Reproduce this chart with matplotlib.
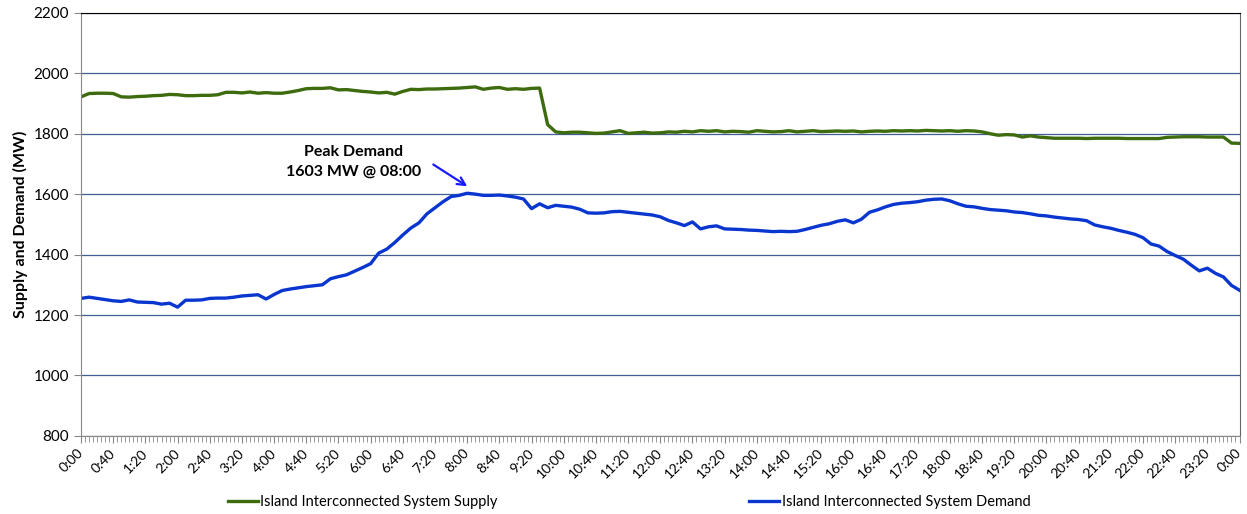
import numpy as np
import matplotlib.pyplot as plt
from matplotlib.ticker import MultipleLocator

plt.rcParams['font.family'] = ['Lato', 'DejaVu Sans']

# 10-minute readings, 0:00 .. 24:00
supply = [
    1922, 1933, 1934, 1934, 1933, 1922, 1921, 1923, 1924, 1926, 1927, 1930,
    1929, 1926, 1926, 1927, 1927, 1929, 1937, 1937, 1935, 1938, 1934, 1936,
    1934, 1934, 1938, 1943, 1949, 1950, 1950, 1952, 1945, 1946, 1943, 1940,
    1938, 1935, 1937, 1931, 1940, 1947, 1946, 1948, 1948, 1949, 1950, 1951,
    1953, 1955, 1947, 1951, 1953, 1947, 1949, 1947, 1950, 1951, 1830, 1806,
    1803, 1805, 1805, 1803, 1801, 1802, 1806, 1810, 1801, 1803, 1805, 1802,
    1803, 1806, 1805, 1808, 1806, 1810, 1808, 1810, 1806, 1808, 1807, 1805,
    1810, 1808, 1806, 1807, 1810, 1806, 1808, 1810, 1807, 1808, 1809, 1808,
    1809, 1806, 1808, 1809, 1808, 1810, 1809, 1810, 1809, 1811, 1810, 1809,
    1810, 1808, 1810, 1809, 1806, 1800, 1795, 1797, 1796, 1789, 1793, 1789,
    1787, 1785, 1785, 1785, 1785, 1784, 1785, 1785, 1785, 1785, 1784, 1784,
    1784, 1784, 1784, 1788, 1789, 1790, 1790, 1790, 1789, 1789, 1789, 1769,
    1768,
]

demand = [
    1255, 1259, 1255, 1251, 1247, 1245, 1250, 1243, 1242, 1241, 1236, 1239,
    1226, 1249, 1249, 1250, 1255, 1256, 1256, 1259, 1263, 1265, 1267, 1253,
    1268, 1281, 1286, 1290, 1294, 1297, 1300, 1320, 1327, 1333, 1345, 1357,
    1370, 1405, 1418, 1440, 1465, 1488, 1505, 1535, 1555, 1575, 1592, 1596,
    1603, 1600, 1596, 1596, 1597, 1594, 1590, 1584, 1552, 1568, 1555, 1563,
    1560, 1557, 1550, 1538, 1537, 1538, 1542, 1543, 1540, 1537, 1534, 1531,
    1525, 1513, 1505, 1496, 1508, 1485, 1492, 1495, 1485, 1484, 1483, 1481,
    1480, 1478, 1476, 1477, 1476, 1477, 1483, 1490, 1497, 1502, 1510, 1515,
    1505, 1517, 1540, 1548, 1558, 1566, 1570, 1572, 1575, 1580, 1583, 1584,
    1578, 1568, 1560, 1558, 1553, 1549, 1547, 1545, 1541, 1539, 1535, 1530,
    1528, 1524, 1521, 1518, 1516, 1512, 1498, 1492, 1487, 1480, 1474, 1467,
    1456, 1435, 1428, 1410, 1397, 1385, 1365, 1346, 1355, 1338, 1326, 1298,
    1282,
]

minutes = np.arange(len(demand)) * 10
tick_minutes = np.arange(0, 1441, 40)
tick_labels = [f"{(m // 60) % 24}:{m % 60:02d}" for m in tick_minutes]

fig = plt.figure(figsize=(12.47, 5.14), dpi=100)
ax = fig.add_axes([0.065, 0.152, 0.929, 0.823])

ax.plot(minutes, supply, color='#3d6b0e', linewidth=2.4,
        label='Island Interconnected System Supply')
ax.plot(minutes, demand, color='#0a36d0', linewidth=2.4,
        label='Island Interconnected System Demand')

ax.set_xlim(0, 1440)
ax.set_ylim(800, 2200)
ax.set_yticks(np.arange(800, 2201, 200))
ax.set_xticks(tick_minutes)
ax.set_xticklabels(tick_labels, rotation=45, ha='right', va='center',
                   rotation_mode='anchor', fontsize=10)
ax.xaxis.set_minor_locator(MultipleLocator(5))
ax.tick_params(axis='x', which='major', length=5, color='#888888', pad=6)
ax.tick_params(axis='x', which='minor', length=4, color='#888888')
ax.tick_params(axis='y', length=5, color='#888888', labelsize=11)

ax.grid(axis='y', color='#3f5f94', linewidth=0.9)
ax.set_axisbelow(True)
for side in ['left', 'bottom']:
    ax.spines[side].set_color('#888888')
ax.spines['top'].set_color('#000000')
ax.spines['right'].set_color('#666666')

ax.set_ylabel('Supply and Demand (MW)', fontsize=11.5, fontweight='bold')

ax.text(339, 1706, 'Peak Demand\n1603 MW @ 08:00', ha='center', va='center',
        fontsize=11.5, fontweight='bold', linespacing=1.5)
ax.annotate('', xy=(483, 1621), xytext=(435, 1703),
            arrowprops=dict(arrowstyle='->', color='#1a1aff', lw=1.6,
                            mutation_scale=14))

ax.legend(loc='center', bbox_to_anchor=(0.473, -0.156), ncol=2, frameon=False,
          fontsize=10.5, columnspacing=17.3, handlelength=2.05, handletextpad=0.15)

fig.savefig('out.png', dpi=100)
